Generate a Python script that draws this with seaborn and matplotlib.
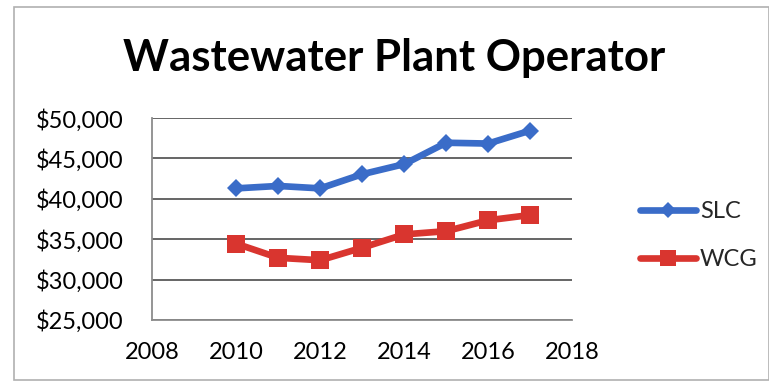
import matplotlib
matplotlib.use("Agg")
import matplotlib.pyplot as plt
from matplotlib.patches import Rectangle
from matplotlib.ticker import FuncFormatter, MultipleLocator
import pandas as pd
import seaborn as sns

years = [2010, 2011, 2012, 2013, 2014, 2015, 2016, 2017]
slc = [41300, 41600, 41300, 43050, 44300, 46950, 46850, 48450]
wcg = [34450, 32700, 32400, 33950, 35600, 36000, 37350, 38000]
series_names = ["SLC", "WCG"]
title = "Wastewater Plant Operator"

sns.set_theme(style="white")
plt.rcParams["font.family"] = ["Lato", "DejaVu Sans"]

df = pd.DataFrame({
    "Year": years * 2,
    "Salary": slc + wcg,
    "Series": [series_names[0]] * len(years) + [series_names[1]] * len(years),
})

fig = plt.figure(figsize=(7.69, 3.86), dpi=100)
ax = fig.add_axes([0.198, 0.171, 0.546, 0.523])

colors = {"SLC": "#3a6cc8", "WCG": "#d9352f"}
markers = {"SLC": "D", "WCG": "s"}
sizes = {"SLC": 9, "WCG": 13}
for name in series_names:
    sub = df[df["Series"] == name]
    sns.lineplot(data=sub, x="Year", y="Salary", ax=ax, color=colors[name],
                 linewidth=4.8, marker=markers[name], markersize=sizes[name],
                 markeredgewidth=0, label=name, legend=False)

ax.set_xlim(2008, 2018)
ax.set_ylim(25000, 50000)
ax.xaxis.set_major_locator(MultipleLocator(2))
ax.yaxis.set_major_locator(MultipleLocator(5000))
ax.yaxis.set_major_formatter(FuncFormatter(lambda v, p: f"${v:,.0f}"))
ax.grid(axis="y", color="#595959", linewidth=1.3)
ax.set_axisbelow(True)
ax.set_xlabel("")
ax.set_ylabel("")
for side in ["top", "right"]:
    ax.spines[side].set_visible(False)
for side in ["left", "bottom"]:
    ax.spines[side].set_color("#8c8c8c")
    ax.spines[side].set_linewidth(1.3)
ax.tick_params(axis="both", which="major", labelsize=17, colors="#000000",
               direction="out", width=1.2)
ax.tick_params(axis="x", color="#9a9a9a", length=4, pad=12)
ax.tick_params(axis="y", color="#595959", length=6.5, pad=14)

fig.text(0.513, 0.85, title, ha="center", va="center",
         fontsize=31.5, fontweight="bold", color="#000000")

handles, labels = ax.get_legend_handles_labels()
fig.legend(handles, labels, loc="center left", bbox_to_anchor=(0.832, 0.389),
           frameon=False, fontsize=17, handlelength=2.4, labelspacing=1.15,
           handletextpad=0.15, markerscale=0.9, borderaxespad=0, borderpad=0)

fig.patches.append(Rectangle((0.018, 0.016), 0.982, 0.966, transform=fig.transFigure,
                             fill=False, edgecolor="#b0b0b0", linewidth=1.2))

fig.savefig("out.png", dpi=100, facecolor="white")
